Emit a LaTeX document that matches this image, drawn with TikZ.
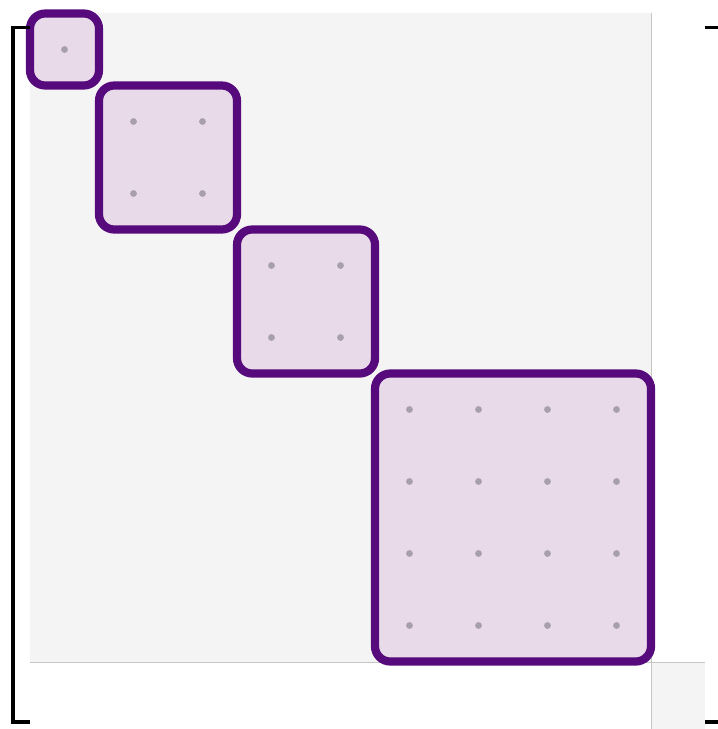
\documentclass[tikz,border=0pt]{standalone}
\usepackage{tikz}
\definecolor{blkpurple}{HTML}{570A7C}
\definecolor{blkfill}{HTML}{E8DAE8}
\definecolor{bggray}{HTML}{F4F4F4}
\definecolor{edgegray}{HTML}{C6C6C6}
\definecolor{dotgray}{HTML}{A89FAE}

\begin{document}
\begin{tikzpicture}[
  x=0.03cm, y=-0.03cm,
  block/.style={draw=blkpurple, fill=blkfill, line width=7pt, rounded corners=13pt},
  entry/.style={fill=dotgray},
  brace/.style={draw=black, line width=3.2pt},
  edge/.style={draw=edgegray, line width=0.8pt},
]
\useasboundingbox (0,0) rectangle (717,729);

% ----- background of the matrix -----
\fill[bggray] (30,13) rectangle (651,662);
\fill[bggray] (651,662) rectangle (705,729);
\draw[edge] (651,13) -- (651,729);
\draw[edge] (30,662) -- (705,662);

% ----- diagonal blocks (start/size) -----
\foreach \s/\n in {0/1,1/2,3/2,5/4} {
  \draw[block] ({30+69*\s},{13.5+72*\s}) rectangle ({30+69*(\s+\n)},{13.5+72*(\s+\n)});
  \foreach \i in {1,...,\n}
    \foreach \j in {1,...,\n}
      \fill[entry] ({30+69*(\s+\i-0.5)},{13.5+72*(\s+\j-0.5)}) circle (2.9pt);
}

% ----- brackets -----
\draw[brace] (30,27.5) -- (13,27.5) -- (13,722) -- (30,722);
\draw[brace] (705,27.5) -- (718,27.5);
\draw[brace] (705,722) -- (718,722);
\end{tikzpicture}
\end{document}
